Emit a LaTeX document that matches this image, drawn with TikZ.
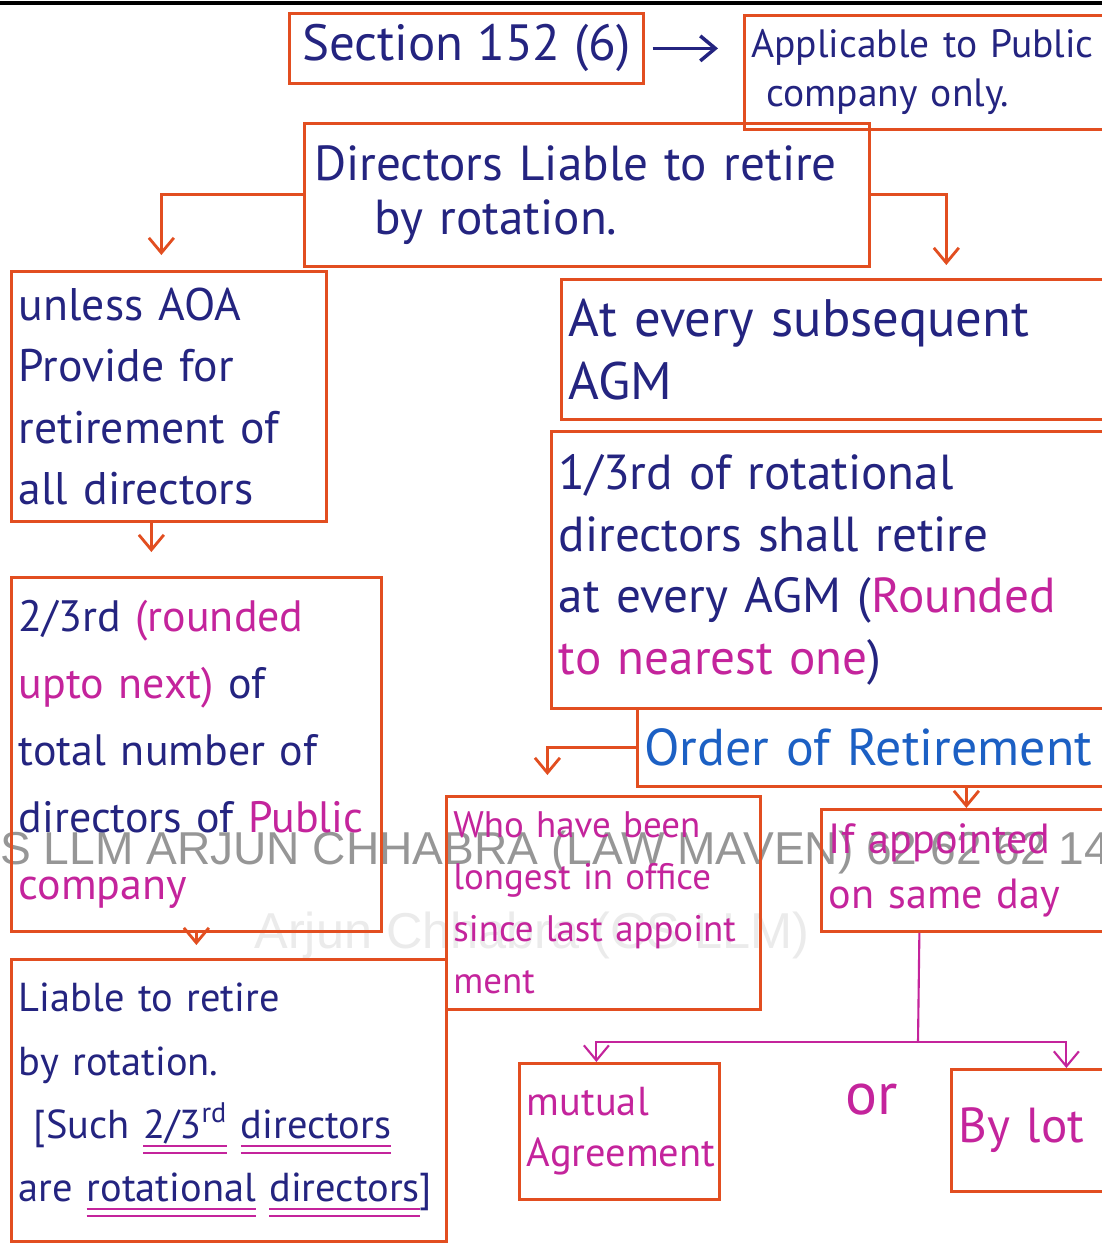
\documentclass[tikz,border=0pt]{standalone}
\usepackage{fontspec}
\setmainfont{PT Sans}
\newfontfamily\markfont{Liberation Sans}
\usetikzlibrary{arrows.meta,positioning,calc}
\definecolor{boxred}{RGB}{226,78,32}
\definecolor{inkblue}{RGB}{36,36,128}
\definecolor{inkmag}{RGB}{196,36,156}
\definecolor{inksky}{RGB}{28,96,196}
\definecolor{markgrey}{RGB}{150,150,150}
\newcommand{\hand}[2]{\fontsize{#1}{#2}\selectfont\hyphenpenalty=10000 }
\newcommand{\dblul}[1]{\setbox0\hbox{#1}\rlap{\color{inkmag}\rule[-5pt]{\wd0}{1.2pt}}\rlap{\color{inkmag}\rule[-9pt]{\wd0}{1.2pt}}\box0\relax}

\begin{document}
\begin{tikzpicture}[x=0.02cm,y=-0.02cm,>={Straight Barb[length=3mm,width=5mm]},
 box/.style={draw=boxred,line width=1.6pt,anchor=north west,align=left,
 inner sep=4pt,text=inkblue,font=\hand{26}{35}},
 link/.style={->,draw=boxred,line width=1.6pt},
 pick/.style={->,draw=inkmag,line width=1.2pt}]
\useasboundingbox (0,0) rectangle (1102,1258);
\clip (0,0) rectangle (1102,1258);
\fill[white] (0,0) rectangle (1102,1258);
\draw[line width=2pt] (0,3) -- (1102,3);

\node[anchor=west,text=markgrey,font=\markfont] (mark) at (-6,853)
 {\resizebox{22.2cm}{!}{S LLM ARJUN CHHABRA (LAW MAVEN) 62 62 62 14}};
\node[text=black!8,font=\markfont] (mark2) at (532,935)
 {\resizebox{11.1cm}{!}{Arjun Chhabra (CS LLM)}};

\node[box,minimum width=7.08cm,minimum height=1.4cm,align=center,font=\hand{29}{32}] (sec) at (288,12)
 {Section 152 (6)};
\node[box,minimum width=7.5cm,minimum height=2.28cm,text width=8cm,font=\hand{22.5}{28}] (app) at (743,14)
 {Applicable to Public\\\hspace*{0.3cm}company only.};
\node[box,minimum width=11.3cm,minimum height=2.86cm,text width=10.9cm,font=\hand{28}{31}] (dir) at (303,122)
 {Directors Liable to retire\\\hspace*{1.2cm}by rotation.};
\node[box,minimum width=6.3cm,minimum height=5cm,text width=6cm] (unless) at (10,270)
 {unless AOA\\Provide for\\retirement of\\all directors};
\node[box,minimum width=7.4cm,minimum height=7.08cm,text width=7.1cm,font=\hand{25}{38}] (two) at (10,576)
 {2/3rd {\color{inkmag}(rounded}\\{\color{inkmag}upto next)} of\\total number of\\\mbox{directors of {\color{inkmag}Public}}\\{\color{inkmag}company}};
\node[box,minimum width=8.7cm,minimum height=5.64cm,text width=8.4cm,font=\hand{23}{36}] (liable) at (10,958)
 {Liable to retire\\by rotation.\\\hspace*{0.3cm}[Such \dblul{2/3\textsuperscript{rd}} \dblul{directors}\\are \dblul{rotational} \dblul{directors}]};

\node[box,minimum width=11cm,minimum height=2.8cm,text width=10.7cm,font=\hand{30}{36}] (agm) at (560,278)
 {At every subsequent\\AGM};
\node[box,minimum width=11.2cm,minimum height=5.54cm,text width=10.9cm,font=\hand{28}{35}] (one) at (550,430)
 {1/3rd of rotational\\directors shall retire\\at every AGM ({\color{inkmag}Rounded}\\{\color{inkmag}to nearest one})};
\node[box,minimum width=9.4cm,minimum height=1.56cm,text width=10cm,text=inksky,font=\hand{29.5}{32}] (order) at (636,707)
 {Order of Retirement};
\node[box,minimum width=6.24cm,minimum height=4.26cm,text width=6cm,text=inkmag,font=\hand{21}{29.5}] (who) at (445,795)
 {Who have been\\longest in office\\since last appoint\\ment};
\node[box,minimum width=5.8cm,minimum height=2.44cm,text width=5.5cm,text=inkmag,font=\hand{24}{31}] (same) at (820,808)
 {If appointed\\on same day};
\node[box,minimum width=4cm,minimum height=2.72cm,text width=3.7cm,text=inkmag,font=\hand{23}{29}] (mutual) at (518,1062)
 {mutual\\Agreement};
\node[box,minimum width=3.2cm,minimum height=2.44cm,text width=2.9cm,text=inkmag,font=\hand{28}{32}] (lot) at (950,1068)
 {By lot};
\node[text=inkmag,font=\hand{34}{36}] (or) at (872,1100) {or};

\draw[->,inkblue,line width=2pt,shorten <=0.16cm,shorten >=0.5cm] (sec.east) -- (sec.east -| app.west);
\draw[link,shorten >=0.3cm] (dir.west) -| ([xshift=-0.15cm]unless.north);
\draw[link,shorten >=0.26cm] (dir.east) -| ([xshift=2.2cm]agm.north);
\draw[link,shorten >=0.48cm] ([xshift=-0.35cm]unless.south) -- ([xshift=-0.35cm]unless.south |- two.north);
\draw[link,shorten >=0.26cm] (two.south) -- (two.south |- liable.north);
\draw[link,shorten >=0.4cm] (order.west) -| ([xshift=-1.12cm]who.north);
\draw[link] (order.south -| same.north) -- (same.north);
\coordinate (split) at (918,1042);
\draw[pick,-] ([xshift=-0.94cm]same.south) -- (split);
\draw[pick] (split) -| ([xshift=-0.46cm]mutual.north);
\draw[pick] (split) -| ([xshift=0.7cm]lot.north);
\end{tikzpicture}
\end{document}
